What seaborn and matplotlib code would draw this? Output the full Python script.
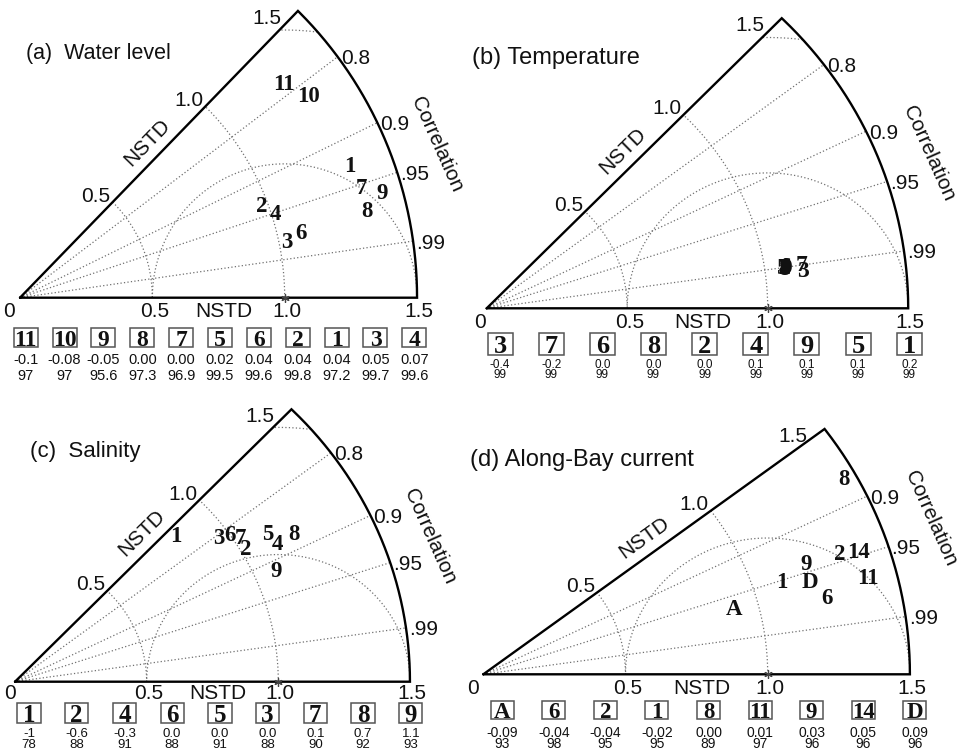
import numpy as np
import pandas as pd
import matplotlib
matplotlib.use("Agg")
import matplotlib.pyplot as plt
from matplotlib.patches import Rectangle
import seaborn as sns

sns.set_theme(style="white")
plt.rcParams["font.family"] = ["Liberation Sans", "DejaVu Sans"]
SERIF = ["Liberation Serif", "DejaVu Serif"]

# ---------------------------------------------------------------- data
# (a) Water level: run label, normalised standard deviation, correlation
wl_labels = ["11", "10", "1", "7", "9", "8", "2", "4", "3", "6"]
wl_nstd = [1.283, 1.329, 1.343, 1.358, 1.427, 1.352, 0.979, 1.015, 1.032, 1.090]
wl_corr = [0.777, 0.820, 0.928, 0.951, 0.960, 0.969, 0.933, 0.949, 0.978, 0.973]
wl_rank = ["11", "10", "9", "8", "7", "5", "6", "2", "1", "3", "4"]
wl_bias = ["-0.1", "-0.08", "-0.05", "0.00", "0.00", "0.02", "0.04", "0.04", "0.04", "0.05", "0.07"]
wl_skill = ["97", "97", "95.6", "97.3", "96.9", "99.5", "99.6", "99.8", "97.2", "99.7", "99.6"]

# (b) Temperature
tp_labels = ["5", "6", "8", "2", "4", "9", "1", "7", "3"]
tp_nstd = [1.066, 1.073, 1.070, 1.074, 1.071, 1.076, 1.069, 1.133, 1.136]
tp_corr = [0.9890, 0.9884, 0.9896, 0.9891, 0.9888, 0.9893, 0.9887, 0.9888, 0.9914]
tp_rank = ["3", "7", "6", "8", "2", "4", "9", "5", "1"]
tp_bias = ["-0.4", "-0.2", "0.0", "0.0", "0.0", "0.1", "0.1", "0.1", "0.2"]
tp_skill = ["99", "99", "99", "99", "99", "99", "99", "99", "99"]

# (c) Salinity
sa_labels = ["1", "3", "6", "7", "2", "5", "4", "8", "9"]
sa_nstd = [0.845, 0.964, 1.003, 1.031, 1.025, 1.125, 1.139, 1.214, 1.087]
sa_corr = [0.724, 0.804, 0.812, 0.831, 0.855, 0.852, 0.875, 0.874, 0.912]
sa_rank = ["1", "2", "4", "6", "5", "3", "7", "8", "9"]
sa_bias = ["-1", "-0.6", "-0.3", "0.0", "0.0", "0.0", "0.1", "0.7", "1.1"]
sa_skill = ["78", "88", "91", "88", "91", "88", "90", "92", "93"]

# (d) Along-Bay current
cu_labels = ["8", "2", "14", "9", "D", "1", "11", "6", "A"]
cu_nstd = [1.461, 1.333, 1.396, 1.208, 1.201, 1.105, 1.399, 1.241, 0.916]
cu_corr = [0.868, 0.941, 0.945, 0.940, 0.957, 0.950, 0.966, 0.973, 0.963]
cu_rank = ["A", "6", "2", "1", "8", "11", "9", "14", "D"]
cu_bias = ["-0.09", "-0.04", "-0.04", "-0.02", "0.00", "0.01", "0.03", "0.05", "0.09"]
cu_skill = ["93", "98", "95", "95", "89", "97", "96", "96", "96"]

corr_ticks = [0.8, 0.9, 0.95, 0.99]
corr_tick_text = ["0.8", "0.9", ".95", ".99"]
std_ticks = [0.5, 1.0, 1.5]
std_tick_text = ["0.5", "1.0", "1.5"]

# ---------------------------------------------------------------- layout
W, H = 960, 754
fig = plt.figure(figsize=(W / 100, H / 100), dpi=100)
fig.patch.set_facecolor("white")

INK = "#111111"
GRID = dict(color="#707070", lw=0.9, ls=(0, (1.0, 1.8)))
TICK_FS = 15

PANELS = [
    dict(region=(0, 0, 480, 380), ox=20, oy=297.7, sx=264.7, sy=267.7, cmin=0.7,
         title="(a)  Water level", title_xy=(26, 53), title_fs=15.5, pt_fs=16.5, xlab_dy=11.5,
         zero_dx=-11.5,
         tab_x=(25.7, 414.3), box_y=337.5, box_w=24, box_h=18.5, box_fs=17,
         r1_y=358.5, r2_y=375, num_fs=10.5),
    dict(region=(480, 0, 960, 380), ox=486.7, oy=308.3, sx=281.0, sy=270.8, cmin=0.7,
         title="(b) Temperature", title_xy=(472, 58.3), title_fs=17, pt_fs=17, xlab_dy=11.7,
         zero_dx=-7,
         tab_x=(500, 909.2), box_y=343.5, box_w=25, box_h=22, box_fs=19,
         r1_y=363.3, r2_y=373.3, num_fs=8.5),
    dict(region=(0, 380, 480, 754), ox=15, oy=681.7, sx=263.3, sy=254.3, cmin=0.7,
         title="(c)  Salinity", title_xy=(30, 451.7), title_fs=16, pt_fs=16.5, xlab_dy=9.5,
         zero_dx=-5,
         tab_x=(29, 410.8), box_y=713.3, box_w=23.3, box_h=20, box_fs=18,
         r1_y=732.7, r2_y=743.3, num_fs=9.5),
    dict(region=(480, 380, 960, 754), ox=483.3, oy=674.3, sx=284.4, sy=272.6, cmin=0.8,
         title="(d) Along-Bay current", title_xy=(470, 460), title_fs=17, pt_fs=16.5, xlab_dy=12,
         zero_dx=-10,
         tab_x=(502.3, 914.7), box_y=710, box_w=23, box_h=18.7, box_fs=16.5,
         r1_y=731.7, r2_y=743.3, num_fs=10),
]


def to_data(p, px, py):
    return (px - p["ox"]) / p["sx"], (p["oy"] - py) / p["sy"]


def centred_text(ax, p, x, y, s, fs, dx=0.0, dy=0.0, ha="center", **kw):
    """Place text so its digits are vertically centred at (x, y) shifted by (dx, dy) pixels."""
    lift = 0.36 * fs * 100 / 72
    ax.text(x + dx / p["sx"], y - (dy + lift) / p["sy"], s, fontsize=fs,
            ha=ha, va="baseline", color=INK, **kw)


def taylor_panel(p, labels, nstd, corr, rank, bias, skill):
    x0, y0, x1, y1 = p["region"]
    ax = fig.add_axes([x0 / W, 1 - y1 / H, (x1 - x0) / W, (y1 - y0) / H])
    ax.set_xlim((x0 - p["ox"]) / p["sx"], (x1 - p["ox"]) / p["sx"])
    ax.set_ylim((p["oy"] - y1) / p["sy"], (p["oy"] - y0) / p["sy"])
    ax.axis("off")

    tmax = np.arccos(p["cmin"])
    th = np.linspace(0, tmax, 300)

    # standard-deviation arcs
    for r in std_ticks[:-1]:
        ax.plot(r * np.cos(th), r * np.sin(th), **GRID)

    # centred RMS-difference circles about the reference point
    phi = np.linspace(0, np.pi, 1200)
    for rr in (0.5, 1.0):
        gx, gy = 1 + rr * np.cos(phi), rr * np.sin(phi)
        keep = (np.hypot(gx, gy) <= 1.5) & (np.arctan2(gy, gx) <= tmax)
        ax.plot(np.where(keep, gx, np.nan), np.where(keep, gy, np.nan), **GRID)

    # correlation rays and their labels
    for c, lab in zip(corr_ticks, corr_tick_text):
        if c <= p["cmin"] + 1e-9:
            continue
        t = np.arccos(c)
        ax.plot([0, 1.5 * np.cos(t)], [0, 1.5 * np.sin(t)], **GRID)
        centred_text(ax, p, 1.5 * np.cos(t), 1.5 * np.sin(t), lab, TICK_FS, dx=3, ha="left")

    # outer frame: x axis, 1.5 arc, minimum-correlation edge
    fx = np.concatenate([[0.0], 1.5 * np.cos(th), [0.0]])
    fy = np.concatenate([[0.0], 1.5 * np.sin(th), [0.0]])
    sns.lineplot(x=fx, y=fy, sort=False, estimator=None, color="black", lw=1.7,
                 solid_joinstyle="miter", ax=ax)

    # reference point
    ax.plot([1.0], [0.0], marker=(6, 2, 0), ms=6, mew=0.9, color="#444444", clip_on=False)

    # x-axis labels
    for v, s in zip(std_ticks, std_tick_text):
        centred_text(ax, p, v, 0, s, TICK_FS, dx=2, dy=p["xlab_dy"])
    centred_text(ax, p, 0, 0, "0", TICK_FS, dx=p["zero_dx"], dy=p["xlab_dy"])
    centred_text(ax, p, 0.77, 0, "NSTD", TICK_FS, dy=p["xlab_dy"])

    # labels along the slanted edge
    ct, st = np.cos(tmax), np.sin(tmax)
    for v, s in zip(std_ticks[:-1], std_tick_text[:-1]):
        centred_text(ax, p, v * ct, v * st, s, TICK_FS, dx=-2, dy=-8, ha="right")
    centred_text(ax, p, 1.5 * ct, 1.5 * st, std_tick_text[-1], TICK_FS, dx=-17, dy=5.5, ha="right")
    ang = np.degrees(np.arctan2(st * p["sy"], ct * p["sx"]))
    a = np.radians(ang)
    ax.text(0.75 * ct - np.sin(a) * 17 / p["sx"], 0.75 * st + np.cos(a) * 17 / p["sy"], "NSTD",
            rotation=ang, rotation_mode="anchor", ha="center", va="center",
            fontsize=TICK_FS, color=INK)

    # correlation axis title
    t = np.radians(20)
    ax.text(1.675 * np.cos(t), 1.675 * np.sin(t), "Correlation", rotation=-66,
            rotation_mode="anchor", ha="center", va="center", fontsize=TICK_FS, color=INK)

    # panel title
    tx, ty = to_data(p, *p["title_xy"])
    ax.text(tx, ty, p["title"], ha="left", va="center", fontsize=p["title_fs"], color=INK)

    # model runs as labels
    df = pd.DataFrame({"label": labels, "nstd": nstd, "corr": corr})
    df["x"] = df["nstd"] * df["corr"]
    df["y"] = df["nstd"] * np.sqrt(1 - df["corr"] ** 2)
    for row in df.itertuples():
        centred_text(ax, p, row.x, row.y, row.label, p["pt_fs"], family=SERIF, weight="bold")

    # ranking table under the diagram
    xs_pix = np.linspace(p["tab_x"][0], p["tab_x"][1], len(rank))
    bw, bh = p["box_w"] / p["sx"], p["box_h"] / p["sy"]
    for xp, r, b, s in zip(xs_pix, rank, bias, skill):
        bx, by = to_data(p, xp, p["box_y"])
        ax.add_patch(Rectangle((bx - bw / 2, by - bh / 2), bw, bh, fill=False,
                               ec="#555555", lw=1.1, clip_on=False))
        centred_text(ax, p, bx, by, r, p["box_fs"], family=SERIF, weight="bold")
        _, y1d = to_data(p, xp, p["r1_y"])
        _, y2d = to_data(p, xp, p["r2_y"])
        centred_text(ax, p, bx, y1d, b, p["num_fs"])
        centred_text(ax, p, bx, y2d, s, p["num_fs"])
    return ax


taylor_panel(PANELS[0], wl_labels, wl_nstd, wl_corr, wl_rank, wl_bias, wl_skill)
taylor_panel(PANELS[1], tp_labels, tp_nstd, tp_corr, tp_rank, tp_bias, tp_skill)
taylor_panel(PANELS[2], sa_labels, sa_nstd, sa_corr, sa_rank, sa_bias, sa_skill)
taylor_panel(PANELS[3], cu_labels, cu_nstd, cu_corr, cu_rank, cu_bias, cu_skill)

fig.savefig("out.png", dpi=100, facecolor="white")
